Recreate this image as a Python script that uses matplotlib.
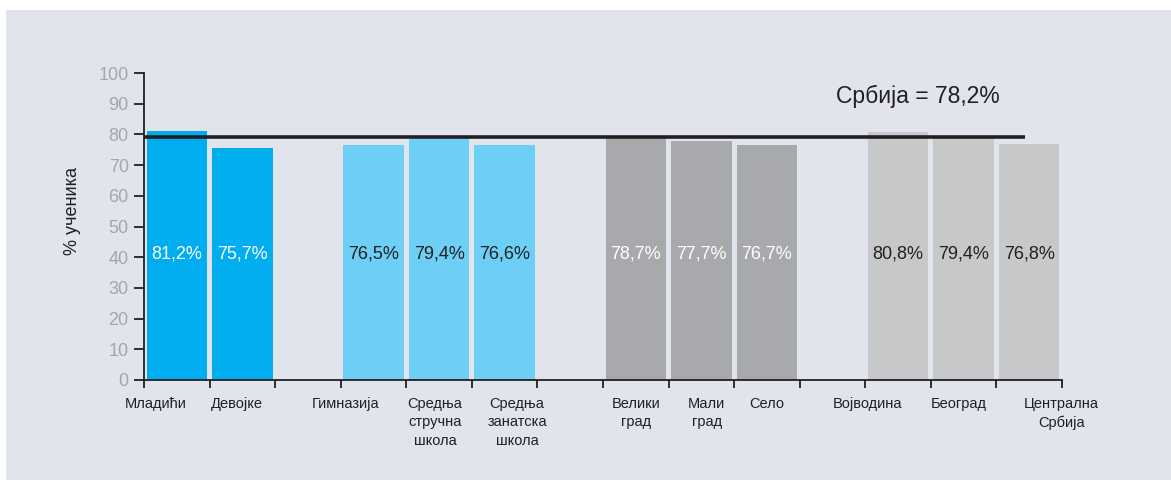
import matplotlib
matplotlib.use("Agg")
import matplotlib.pyplot as plt
from matplotlib.patches import Rectangle
import numpy as np

plt.rcParams["font.family"] = ["Liberation Sans", "DejaVu Sans"]

# ---- data ----
categories = ["Младићи", "Девојке", "",
              "Гимназија", "Средња\nстручна\nшкола", "Средња\nзанатска\nшкола", "",
              "Велики\nград", "Мали\nград", "Село", "",
              "Војводина", "Београд", "Централна\nСрбија"]
values = [81.2, 75.7, None,
          76.5, 79.4, 76.6, None,
          78.7, 77.7, 76.7, None,
          80.8, 79.4, 76.8]
value_labels = ["81,2%", "75,7%", "",
                "76,5%", "79,4%", "76,6%", "",
                "78,7%", "77,7%", "76,7%", "",
                "80,8%", "79,4%", "76,8%"]
serbia_line = 79.2          # where the line sits in the picture
serbia_text = "Србија = 78,2%"

# ---- styles ----
c_gender = "#00AEEF"
c_school = "#6DCFF6"
c_place = "#A7A9AC"
c_region = "#C7C8CA"
bar_colors = [c_gender, c_gender, None,
              c_school, c_school, c_school, None,
              c_place, c_place, c_place, None,
              c_region, c_region, c_region]
label_colors = ["white", "white", None,
                "#231F20", "#231F20", "#231F20", None,
                "white", "white", "white", None,
                "#231F20", "#231F20", "#231F20"]
# horizontal shift of the category labels (in slot units), as in the original
label_shift = [-0.32, -0.09, 0, -0.43, -0.06, 0.19, 0,
               0.0, 0.08, 0.0, 0, -0.47, -0.07, 0.49]

dark = "#231F20"
bg = "#E1E4ED"

fig = plt.figure(figsize=(11.71, 4.8), dpi=100)
fig.patch.set_facecolor("white")
fig.patches.append(Rectangle((6 / 1171, 0), 1, 1 - 10 / 480,
                             transform=fig.transFigure, facecolor=bg,
                             edgecolor="none", zorder=-10))

ax = fig.add_axes([144 / 1171, 1 - 380 / 480, (1062 - 144) / 1171, (380 - 73) / 480])
ax.patch.set_alpha(0)

x = np.arange(len(categories))
for i, v in enumerate(values):
    if v is None:
        continue
    ax.bar(x[i], v, width=0.92, color=bar_colors[i], zorder=2)
    ax.text(x[i], 41, value_labels[i], ha="center", va="center",
            fontsize=13, color=label_colors[i], zorder=4)

ax.plot([-0.5, 12.93], [serbia_line, serbia_line], color=dark, lw=2.6,
        solid_capstyle="butt", zorder=3, clip_on=False)
ax.text(11.3, 92.5, serbia_text, ha="center", va="center",
        fontsize=16.5, color=dark)

ax.set_xlim(-0.5, 13.5)
ax.set_ylim(0, 100)
ax.set_yticks(np.arange(0, 101, 10))
ax.tick_params(axis="y", labelsize=13, labelcolor="#A6A6A6", color=dark,
               length=7, width=1.3, direction="out", pad=4)

ax.set_xticks(np.arange(-0.5, 13.6, 1))
ax.set_xticklabels([])
ax.tick_params(axis="x", color=dark, length=6, width=1.3, direction="out")
for i, lab in enumerate(categories):
    if lab:
        ax.text(x[i] + label_shift[i], -5.4, lab, ha="center", va="top",
                fontsize=10.5, color=dark, linespacing=1.42)

for s in ["top", "right"]:
    ax.spines[s].set_visible(False)
for s in ["left", "bottom"]:
    ax.spines[s].set_color(dark)
    ax.spines[s].set_linewidth(1.3)

ax.set_ylabel("% ученика", fontsize=13, color=dark)
ax.yaxis.set_label_coords(-0.069, 0.55)

plt.savefig("out.png", dpi=100, facecolor=fig.get_facecolor())
